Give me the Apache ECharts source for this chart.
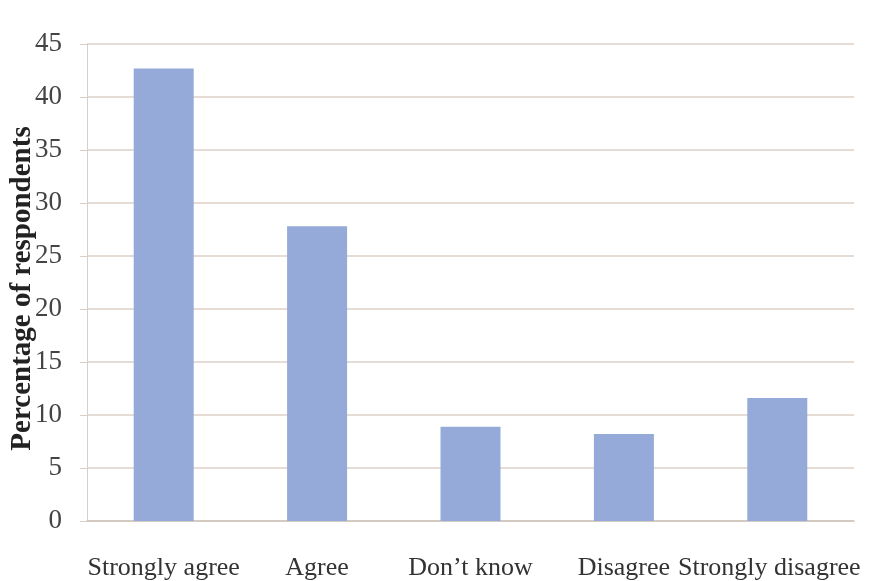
<!DOCTYPE html>
<html>
<head>
<meta charset="utf-8">
<script src="https://cdn.jsdelivr.net/npm/echarts@6/dist/echarts.min.js"></script>
<style>
  html, body { margin: 0; padding: 0; background: #fff; }
  #main { width: 880px; height: 581px; }
</style>
</head>
<body>
<div id="main"></div>
<script>
const categories = ['Strongly agree', 'Agree', 'Don\u2019t know', 'Disagree', 'Strongly disagree'];
const percentages = [42.7, 27.8, 8.9, 8.2, 11.6];
const yTicks = { min: 0, max: 45, interval: 5 };

let chartDom = document.getElementById('main');
let myChart = echarts.init(chartDom);
let option;

// last label sits a little left of its bar in the original
const xData = categories.map(function (c, i) {
  if (i === categories.length - 1) {
    return { value: c, textStyle: { padding: [0, 16, 0, 0] } };
  }
  return c;
});

option = {
  animation: false,
  grid: {
    left: 87,
    right: 26,
    top: 44,
    bottom: 60,
    containLabel: false,
    outerBoundsMode: 'none'
  },
  xAxis: {
    type: 'category',
    data: xData,
    axisLine: { lineStyle: { color: '#cfc3bb', width: 1.5 } },
    axisTick: { show: false },
    axisLabel: {
      interval: 0,
      margin: 34,
      fontFamily: 'Liberation Serif',
      fontSize: 26,
      color: '#333'
    }
  },
  yAxis: {
    type: 'value',
    min: yTicks.min,
    max: yTicks.max,
    interval: yTicks.interval,
    name: 'Percentage of respondents',
    nameLocation: 'middle',
    nameGap: 50,
    nameMoveOverlap: false,
    nameTextStyle: {
      fontFamily: 'Liberation Serif',
      fontSize: 29,
      fontWeight: 'bold',
      color: '#222',
      padding: [0, 12, 0, 0]
    },
    axisLine: { show: true, lineStyle: { color: '#d8cec8' } },
    axisTick: { show: true, length: 7, lineStyle: { color: '#d8cec8' } },
    axisLabel: {
      margin: 25,
      fontFamily: 'Liberation Serif',
      fontSize: 27,
      color: '#444',
      padding: [6, 0, 0, 0]
    },
    splitLine: { lineStyle: { color: '#dcd0c8', width: 1.5 } }
  },
  series: [
    {
      type: 'bar',
      data: percentages,
      barWidth: 60,
      itemStyle: { color: '#95aad9' }
    }
  ]
};

option && myChart.setOption(option);
</script>
</body>
</html>
